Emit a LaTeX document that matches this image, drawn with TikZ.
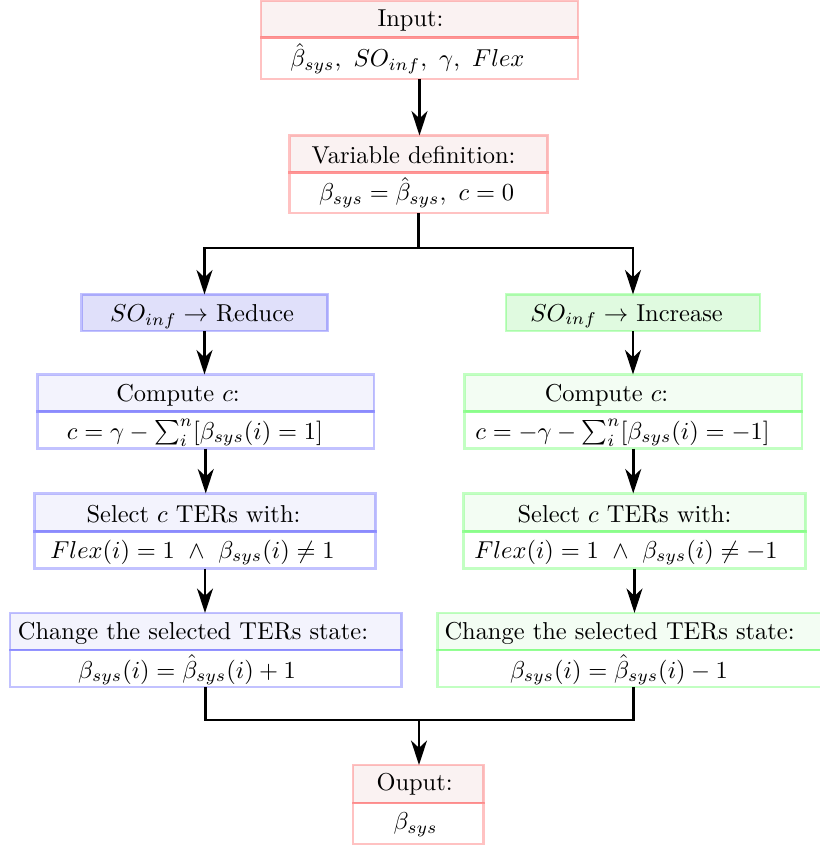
\documentclass[tikz,border=0pt]{standalone}
\usetikzlibrary{arrows.meta}
\definecolor{rhead}{RGB}{250,242,242}
\definecolor{bhead}{RGB}{243,243,253}
\definecolor{ghead}{RGB}{243,253,243}
\definecolor{bsolid}{RGB}{224,224,250}
\definecolor{gsolid}{RGB}{224,250,224}
\def\u{0.409pt}
\newcommand\lowr[2]{\raisebox{-#1}[\height][\depth]{#2}}
\tikzset{
  box/.style={line width=1pt, draw opacity=0.24, inner sep=0pt, outer sep=0pt, anchor=north, text=black},
  rbox/.style={box, draw=red},
  bbox/.style={box, draw=blue},
  gbox/.style={box, draw=green},
  arr/.style={line width=1.2pt, -{Stealth[length=10pt,width=6.5pt,inset=3pt]}},
  con/.style={line width=1.2pt},
}
\begin{document}
\begin{tikzpicture}[x=0.409pt,y=-0.409pt]
\useasboundingbox (0,0) rectangle (819,848);
% Input
\node[rbox, fill=rhead, minimum width={317*\u}, minimum height={36.5*\u}] (in-h) at (419.5,1) {\lowr{0.4pt}{Input:}\kern7.4pt};
\node[rbox, minimum width={317*\u}, minimum height={41.5*\u}] (in-b) at (in-h.south) {$\hat\beta_{sys},\ SO_{inf},\ \gamma,\ Flex$\kern9.8pt};
% Variable definition
\node[rbox, fill=rhead, minimum width={258*\u}, minimum height={37*\u}] (vd-h) at (418.5,135.5) {\lowr{0.3pt}{Variable definition:}\kern4.1pt};
\node[rbox, minimum width={258*\u}, minimum height={40.5*\u}] (vd-b) at (vd-h.south) {$\beta_{sys}=\hat\beta_{sys},\ c=0$\kern1.6pt};
% Reduce / Increase
\node[bbox, fill=bsolid, minimum width={246*\u}, minimum height={36.5*\u}] (red) at (204.5,294.5) {\lowr{1.5pt}{$SO_{inf}\rightarrow$ Reduce}\kern2pt};
\node[gbox, fill=gsolid, minimum width={254*\u}, minimum height={36.5*\u}] (inc) at (633,294.5) {\lowr{1.5pt}{$SO_{inf}\rightarrow$ Increase}\kern5.3pt};
% Compute c
\node[bbox, fill=bhead, minimum width={336.5*\u}, minimum height={37*\u}] (cl-h) at (205.75,374.5) {\lowr{0.8pt}{Compute $c$:}\kern22.7pt};
\node[bbox, minimum width={336.5*\u}, minimum height={37*\u}] (cl-b) at (cl-h.south) {\lowr{1.2pt}{$c=\gamma-\sum_i^n[\beta_{sys}(i)=1]$}\kern8.8pt};
\node[gbox, fill=ghead, minimum width={337.5*\u}, minimum height={37*\u}] (cr-h) at (633.25,374.5) {\lowr{0.8pt}{Compute $c$:}\kern21.9pt};
\node[gbox, minimum width={337.5*\u}, minimum height={37*\u}] (cr-b) at (cr-h.south) {\lowr{1.2pt}{$c=-\gamma-\sum_i^n[\beta_{sys}(i)=-1]$}\kern8.8pt};
% Select
\node[bbox, fill=bhead, minimum width={341*\u}, minimum height={38*\u}] (sl-h) at (205,493.5) {\lowr{0.7pt}{Select $c$ TERs with:}\kern9.4pt};
\node[bbox, minimum width={341*\u}, minimum height={37*\u}] (sl-b) at (sl-h.south) {\lowr{1pt}{$Flex(i)=1\ \wedge\ \beta_{sys}(i)\neq 1$}\kern10.2pt};
\node[gbox, fill=ghead, minimum width={342*\u}, minimum height={38*\u}] (sr-h) at (634.5,493.5) {\lowr{0.7pt}{Select $c$ TERs with:}\kern8.2pt};
\node[gbox, minimum width={342*\u}, minimum height={37*\u}] (sr-b) at (sr-h.south) {\lowr{1pt}{$Flex(i)=1\ \wedge\ \beta_{sys}(i)\neq -1$}\kern7pt};
% Change
\node[bbox, fill=bhead, minimum width={391.5*\u}, minimum height={37*\u}] (chl-h) at (205.75,613) {\lowr{0.7pt}{Change the selected TERs state:}\kern10.4pt};
\node[bbox, minimum width={391.5*\u}, minimum height={37*\u}] (chl-b) at (chl-h.south) {\lowr{0.6pt}{$\beta_{sys}(i)=\hat\beta_{sys}(i)+1$}\kern15.3pt};
\node[gbox, fill=ghead, minimum width={391.5*\u}, minimum height={37*\u}] (chr-h) at (633.25,613) {\lowr{0.7pt}{Change the selected TERs state:}\kern11.2pt};
\node[gbox, minimum width={391.5*\u}, minimum height={37*\u}] (chr-b) at (chr-h.south) {\lowr{0.6pt}{$\beta_{sys}(i)=\hat\beta_{sys}(i)-1$}\kern11.7pt};
% Output
\node[rbox, fill=rhead, minimum width={130.5*\u}, minimum height={38*\u}] (out-h) at (418.25,765) {Ouput:\kern3pt};
\node[rbox, minimum width={130.5*\u}, minimum height={41*\u}] (out-b) at (out-h.south) {\lowr{0.4pt}{$\beta_{sys}$}\kern2.2pt};
% connectors
\coordinate (split) at (418.5,248);
\coordinate (merge) at (419,720);
\draw[arr] (in-b.south) -- (in-b.south |- vd-h.north);
\draw[con] (vd-b.south) -- (split);
\draw[arr] (split) -| (red.north);
\draw[arr] (split) -| (inc.north);
\draw[arr] (red.south) -- (red.south |- cl-h.north);
\draw[arr] (inc.south) -- (inc.south |- cr-h.north);
\draw[arr] (cl-b.south) -- (cl-b.south |- sl-h.north);
\draw[arr] (cr-b.south) -- (cr-b.south |- sr-h.north);
\draw[arr] (sl-b.south) -- (sl-b.south |- chl-h.north);
\draw[arr] (sr-b.south) -- (sr-b.south |- chr-h.north);
\draw[con] (chl-b.south) |- (merge) -| (chr-b.south);
\draw[arr] (merge) -- (merge |- out-h.north);
\end{tikzpicture}
\end{document}
